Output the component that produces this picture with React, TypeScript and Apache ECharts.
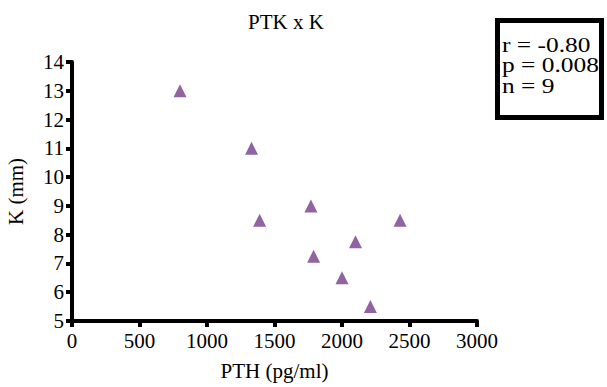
import React, { useEffect, useRef } from "react";
import * as echarts from "echarts";

const pthValues = [800, 1330, 1390, 1770, 1790, 2000, 2100, 2210, 2430];
const kValues = [13, 11, 8.5, 9, 7.25, 6.5, 7.75, 5.5, 8.5];
const statLines = ["r = -0.80", "p = 0.008", "n = 9"];
const titleText = "PTK x K";
const xName = "PTH (pg/ml)";
const yName = "K (mm)";

const FONT = "Liberation Serif";

export default function App() {
  const ref = useRef<HTMLDivElement>(null);
  useEffect(() => {
    if (!ref.current) return;
    const chart = echarts.init(ref.current, undefined, { renderer: "svg" });
    const data = pthValues.map((x, i) => [x, kValues[i]]);
    chart.setOption({
      animation: false,
      backgroundColor: "#ffffff",
      title: {
        text: titleText,
        left: 281,
        textAlign: "center",
        top: 6,
        textStyle: { fontFamily: FONT, fontSize: 21, fontWeight: "normal", color: "#000" },
      },
      grid: { left: 72, right: 130, top: 62, bottom: 66, outerBoundsMode: "none", containLabel: false },
      xAxis: {
        type: "value",
        min: 0,
        max: 3000,
        interval: 500,
        name: xName,
        nameLocation: "middle",
        nameGap: 39,
        nameTextStyle: { fontFamily: FONT, fontSize: 21, color: "#000" },
        axisLine: { show: true, lineStyle: { color: "#000", width: 4 } },
        axisTick: { show: true, length: 6, lineStyle: { color: "#000", width: 4 } },
        axisLabel: {
          fontFamily: FONT,
          fontSize: 21,
          color: "#000",
          margin: 9,
          formatter: (v: number) => String(v),
        },
        splitLine: { show: false },
      },
      yAxis: {
        type: "value",
        min: 5,
        max: 14,
        interval: 1,
        name: yName,
        nameLocation: "middle",
        nameGap: 46,
        nameRotate: 90,
        nameTextStyle: { fontFamily: FONT, fontSize: 21, color: "#000" },
        axisLine: { show: true, lineStyle: { color: "#000", width: 4 } },
        axisTick: { show: true, length: 6, lineStyle: { color: "#000", width: 4 } },
        axisLabel: {
          fontFamily: FONT,
          fontSize: 21,
          color: "#000",
          margin: 8,
          formatter: (v: number) => String(v),
        },
        splitLine: { show: false },
      },
      series: [
        {
          type: "scatter",
          data,
          symbol: "triangle",
          symbolSize: 13,
          itemStyle: { color: "#763c88" },
        },
      ],
      graphic: [
        {
          type: "rect",
          shape: { x: 497.5, y: 20.5, width: 104, height: 97 },
          style: { fill: "#fff", stroke: "#000", lineWidth: 5 },
        },
        {
          type: "text",
          x: 502,
          y: 35,
          scaleX: 1.27,
          style: {
            text: statLines.join("\n"),
            fontFamily: FONT,
            fontSize: 20,
            lineHeight: 20.5,
            fill: "#000",
            verticalAlign: "top",
          },
        },
      ],
    });
    return () => chart.dispose();
  }, []);
  return (
    <div
      ref={ref}
      style={{ position: "fixed", left: 0, top: 0, width: 607, height: 387 }}
    />
  );
}
